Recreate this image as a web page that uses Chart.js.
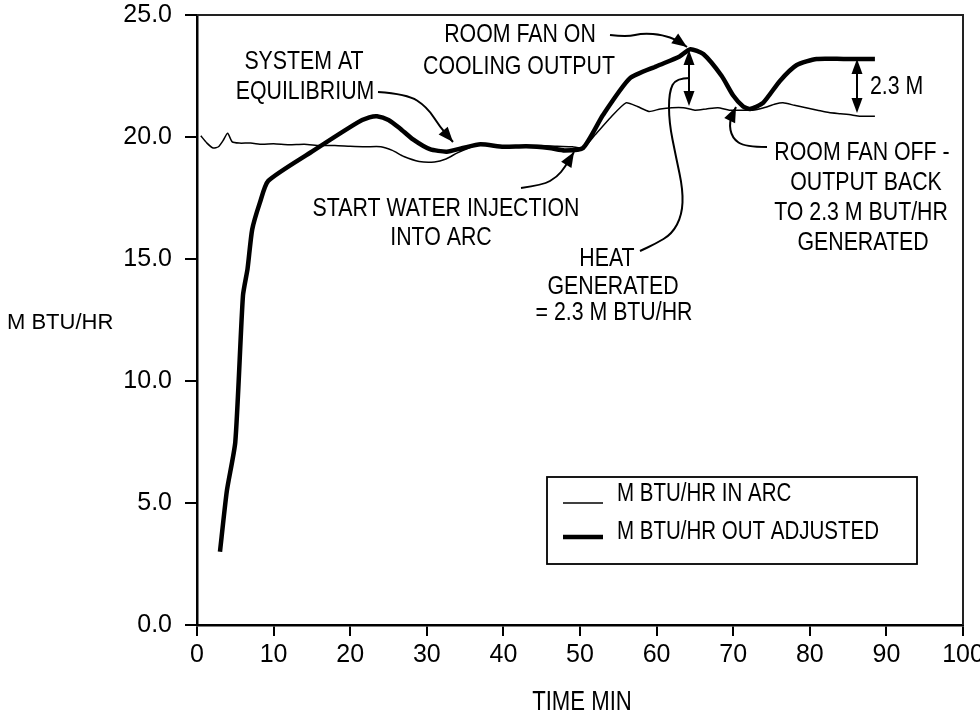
<!DOCTYPE html>
<html>
<head>
<meta charset="utf-8">
<script src="https://cdn.jsdelivr.net/npm/chart.js@4"></script>
<style>
  body { margin: 0; background: #fff; }
  canvas { display: block; }
</style>
</head>
<body>
<canvas id="myChart" width="980" height="719"></canvas>
<script>
// M BTU/HR IN ARC (thin line)
const minutesIn = [0.5, 1.3, 2.1, 2.8, 3.4, 4.0, 4.6, 5.5, 7, 8.5, 10, 12, 14, 16, 18, 20, 22, 24, 25.5, 27, 29, 31, 32.5, 34, 35.5, 37, 39, 41, 43, 45, 47, 49, 50.4, 52, 54, 56, 57.5, 59, 60.5, 62, 63.5, 65, 66.5, 68, 69.5, 71, 72.5, 74, 75.5, 76.5, 78, 79.5, 81, 82.5, 84, 85.5, 86.5, 88.5];
const btuIn = [20.05, 19.75, 19.55, 19.6, 19.85, 20.15, 19.8, 19.75, 19.75, 19.7, 19.72, 19.68, 19.7, 19.65, 19.65, 19.62, 19.6, 19.6, 19.45, 19.2, 19.0, 18.98, 19.1, 19.35, 19.55, 19.7, 19.6, 19.62, 19.65, 19.65, 19.62, 19.6, 19.55, 20.1, 20.8, 21.4, 21.25, 21.05, 21.15, 21.2, 21.2, 21.1, 21.15, 21.2, 21.1, 21.1, 21.1, 21.2, 21.35, 21.4, 21.3, 21.2, 21.1, 21.0, 20.95, 20.9, 20.85, 20.85];

// M BTU/HR OUT ADJUSTED (thick line)
const minutesOut = [3.0, 3.9, 5.0, 6.0, 6.6, 7.2, 8.2, 9.3, 15, 21, 22.5, 23.5, 25, 26.5, 28.2, 30.4, 32.6, 34.7, 37, 40, 43, 46, 48, 50.4, 53, 56.5, 60, 63, 64.4, 66.1, 68.5, 70, 71.3, 72.2, 73.9, 76.1, 78.3, 80.9, 84.4, 88.5];
const btuOut = [3.0, 5.5, 7.5, 13.5, 14.6, 16.2, 17.3, 18.2, 19.4, 20.6, 20.8, 20.85, 20.7, 20.35, 19.9, 19.5, 19.4, 19.55, 19.7, 19.6, 19.62, 19.55, 19.45, 19.55, 20.9, 22.4, 22.9, 23.3, 23.6, 23.4, 22.5, 21.7, 21.25, 21.15, 21.4, 22.3, 22.95, 23.2, 23.2, 23.2];

const seriesNames = ["M BTU/HR IN ARC", "M BTU/HR OUT ADJUSTED"];
const xTickValues = [0, 10, 20, 30, 40, 50, 60, 70, 80, 90, 100];
const yTickLabels = ["0.0", "5.0", "10.0", "15.0", "20.0", "25.0"];

const toPoints = (xs, ys) => xs.map((x, i) => ({ x: x, y: ys[i] }));

// check for narrow font, else squeeze regular one
const probe = document.createElement("canvas").getContext("2d");
probe.font = '26px "Liberation Sans Narrow", monospace';
const wNarrow = probe.measureText("MMMMWWWW").width;
probe.font = "26px monospace";
const hasNarrow = Math.abs(wNarrow - probe.measureText("MMMMWWWW").width) > 1;

function drawText(ctx, text, x, y, size, narrow, align) {
  ctx.save();
  ctx.fillStyle = "#000";
  ctx.textBaseline = "middle";
  ctx.textAlign = align || "center";
  if (narrow && !hasNarrow) {
    ctx.font = size + 'px "Liberation Sans", Arial, sans-serif';
    ctx.translate(x, y);
    ctx.scale(0.82, 1);
    ctx.fillText(text, 0, 0);
  } else {
    ctx.font = size + "px " + (narrow ? '"Liberation Sans Narrow", ' : "") + '"Liberation Sans", Arial, sans-serif';
    ctx.fillText(text, x, y);
  }
  ctx.restore();
}

function smoothPath(ctx, pts) {
  ctx.beginPath();
  ctx.moveTo(pts[0][0], pts[0][1]);
  for (let i = 1; i < pts.length - 1; i++) {
    const mx = (pts[i][0] + pts[i + 1][0]) / 2;
    const my = (pts[i][1] + pts[i + 1][1]) / 2;
    ctx.quadraticCurveTo(pts[i][0], pts[i][1], mx, my);
  }
  const last = pts[pts.length - 1];
  ctx.lineTo(last[0], last[1]);
  ctx.stroke();
}

function arrowHead(ctx, from, tip, len, wid) {
  const a = Math.atan2(tip[1] - from[1], tip[0] - from[0]);
  ctx.beginPath();
  ctx.moveTo(tip[0], tip[1]);
  ctx.lineTo(tip[0] - len * Math.cos(a) + wid * Math.sin(a), tip[1] - len * Math.sin(a) - wid * Math.cos(a));
  ctx.lineTo(tip[0] - len * Math.cos(a) - wid * Math.sin(a), tip[1] - len * Math.sin(a) + wid * Math.cos(a));
  ctx.closePath();
  ctx.fill();
}

const notesPlugin = {
  id: "notes",
  afterDraw(chart) {
    const ctx = chart.ctx;
    const xs = chart.scales.x, ys = chart.scales.y;
    const ca = chart.chartArea;
    // reference-pixel layout -> chart pixels through the scales
    const R = (px, py) => [xs.getPixelForValue((px - 197) / 7.66), ys.getPixelForValue((625 - py) / 24.4)];

    ctx.save();
    // frame top and right
    ctx.strokeStyle = "#222";
    ctx.lineWidth = 2;
    ctx.beginPath();
    ctx.moveTo(ca.left, ca.top);
    ctx.lineTo(ca.right, ca.top);
    ctx.lineTo(ca.right, ca.bottom);
    ctx.stroke();

    // axis titles
    drawText(ctx, "M BTU/HR", 7, 323, 22, false, "left");
    drawText(ctx, "TIME MIN", R(582, 0)[0], 703, 27, true);

    // annotation texts
    const notes = [
      ["SYSTEM AT", 304, 62], ["EQUILIBRIUM", 305, 92],
      ["ROOM FAN ON", 520, 35], ["COOLING OUTPUT", 519, 67],
      ["START WATER INJECTION", 446, 209], ["INTO ARC", 441, 238],
      ["HEAT", 607, 259], ["GENERATED", 613, 287], ["= 2.3 M BTU/HR", 614, 313],
      ["ROOM FAN OFF -", 862, 153], ["OUTPUT BACK", 866, 183],
      ["TO 2.3 M BUT/HR", 861, 213], ["GENERATED", 863, 243]
    ];
    notes.forEach(n => {
      const p = R(n[1], n[2]);
      drawText(ctx, n[0], p[0], p[1], 26, true);
    });
    const p23 = R(870, 87);
    drawText(ctx, "2.3 M", p23[0], p23[1], 26, true, "left");

    // arrows
    ctx.strokeStyle = "#000";
    ctx.fillStyle = "#000";
    ctx.lineWidth = 2;
    const curves = [
      { pts: [[378, 92], [407, 94], [427, 107], [440, 127], [453, 142]], head: true },
      { pts: [[610, 35], [627, 37], [643, 33], [663, 35], [677, 40], [687, 47]], head: true },
      { pts: [[521, 188], [543, 185], [557, 177], [565, 167], [574, 152]], head: true },
      { pts: [[767, 147], [745, 147], [732, 138], [729, 122], [736, 107]], head: true },
      { pts: [[690, 78], [676, 78], [669, 92], [669, 122], [676, 157], [683, 190], [682, 215], [672, 234], [655, 244], [640, 251]], head: false }
    ];
    curves.forEach(c => {
      const pts = c.pts.map(p => R(p[0], p[1]));
      smoothPath(ctx, pts);
      if (c.head) arrowHead(ctx, pts[pts.length - 2], pts[pts.length - 1], 15, 6);
    });
    // double arrows
    [[689, 50, 106], [857, 59, 113]].forEach(d => {
      const a = R(d[0], d[1]), b = R(d[0], d[2]);
      ctx.beginPath();
      ctx.moveTo(a[0], a[1] + 8);
      ctx.lineTo(b[0], b[1] - 8);
      ctx.stroke();
      arrowHead(ctx, b, a, 15, 5.5);
      arrowHead(ctx, a, b, 15, 5.5);
    });

    // legend box
    const tl = R(547, 477), br = R(917, 564);
    ctx.lineWidth = 1.8;
    ctx.strokeStyle = "#000";
    ctx.strokeRect(tl[0], tl[1], br[0] - tl[0], br[1] - tl[1]);
    const rows = [[503, 494, 1.5], [537, 532, 4.5]];
    rows.forEach((r, i) => {
      const l0 = R(563, r[0]), l1 = R(603, r[0]);
      ctx.lineWidth = r[2];
      ctx.beginPath();
      ctx.moveTo(l0[0], l0[1]);
      ctx.lineTo(l1[0], l1[1]);
      ctx.stroke();
      const t = R(617, r[1]);
      drawText(ctx, chart.data.datasets[i].label, t[0], t[1], 25, true, "left");
    });
    ctx.restore();
  }
};

const ctx = document.getElementById("myChart");
const myChart = new Chart(ctx, {
  type: "line",
  data: {
    datasets: [
      {
        label: seriesNames[0],
        data: toPoints(minutesIn, btuIn),
        borderColor: "#000",
        borderWidth: 1.5,
        pointRadius: 0,
        tension: 0.2
      },
      {
        label: seriesNames[1],
        data: toPoints(minutesOut, btuOut),
        borderColor: "#000",
        borderWidth: 4.5,
        pointRadius: 0,
        tension: 0.2
      }
    ]
  },
  options: {
    responsive: false,
    animation: false,
    devicePixelRatio: 1,
    layout: { padding: { top: 15, right: 17, left: 0, bottom: 0 } },
    plugins: { legend: { display: false }, tooltip: { enabled: false } },
    scales: {
      x: {
        type: "linear",
        min: 0,
        max: 100,
        afterBuildTicks: (scale) => {
          scale.ticks = xTickValues.map(v => ({ value: v }));
        },
        afterFit: (scale) => {
          scale.height = 94;
          scale.paddingLeft = 0;
          scale.paddingRight = 0;
        },
        border: { color: "#000", width: 2.5 },
        grid: { drawOnChartArea: false, color: "#000", lineWidth: 2, tickLength: 11 },
        ticks: {
          color: "#000",
          padding: 4,
          maxRotation: 0,
          font: { family: '"Liberation Sans Narrow", "Liberation Sans", Arial', size: 25 }
        }
      },
      y: {
        min: 0,
        max: 25,
        afterFit: (scale) => {
          scale.width = 197;
          scale.paddingTop = 0;
          scale.paddingBottom = 0;
        },
        border: { color: "#000", width: 2.5 },
        grid: { drawOnChartArea: false, color: "#000", lineWidth: 2, tickLength: 12 },
        ticks: {
          stepSize: 5,
          color: "#000",
          padding: 13,
          font: { family: '"Liberation Sans Narrow", "Liberation Sans", Arial', size: 25 },
          callback: (v) => yTickLabels[v / 5]
        }
      }
    }
  },
  plugins: [notesPlugin]
});
</script>
</body>
</html>
